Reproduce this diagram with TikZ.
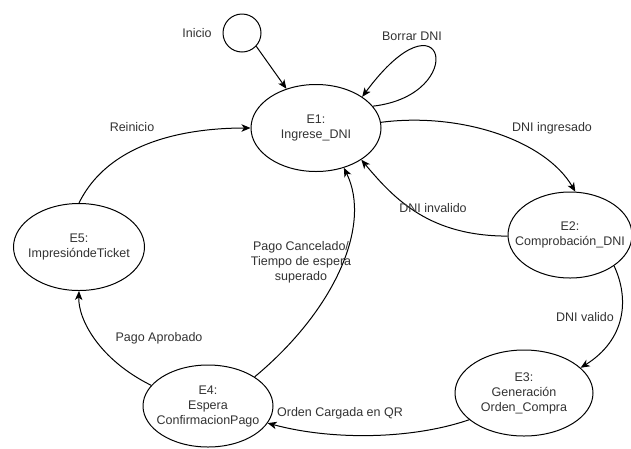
\documentclass[tikz,border=0pt]{standalone}
\usepackage{fontspec}
\setmainfont{Liberation Sans}
\usetikzlibrary{shapes.geometric,arrows.meta}
\definecolor{txtgray}{RGB}{51,51,51}
\begin{document}
\begin{tikzpicture}[x=1pt,y=-1pt,
  state/.style={draw, ellipse, inner sep=0pt, line width=1pt},
  statetext/.style={align=center, text=txtgray, inner sep=0pt,
    font=\fontsize{12.5pt}{15pt}\selectfont},
  edgelabel/.style={align=center, text=txtgray, inner sep=1pt,
    font=\fontsize{12.5pt}{15pt}\selectfont},
  trans/.style={line width=1pt, -{Stealth[length=9pt,width=7.5pt,inset=2.5pt]}}]
  \useasboundingbox[fill=white] (0,0) rectangle (631,448);

  % states
  \node[state, circle, minimum size=38pt] (init) at (242,33) {};
  \node[state, minimum width=130pt, minimum height=87pt] (e1) at (316,128) {};
  \node[state, minimum width=124pt, minimum height=86pt] (e2) at (570,235) {};
  \node[state, minimum width=138pt, minimum height=86pt] (e3) at (524,393) {};
  \node[state, minimum width=130pt, minimum height=82pt] (e4) at (208,406) {};
  \node[state, minimum width=131pt, minimum height=87pt] (e5) at (79,247) {};

  \node[statetext] (e1t) at (e1) {E1:\\Ingrese\_DNI};
  \node[statetext] (e2t) at (e2) {E2:\\Comprobación\_DNI};
  \node[statetext] (e3t) at (e3) {E3:\\Generación\\Orden\_Compra};
  \node[statetext] (e4t) at (e4) {E4:\\Espera\\ConfirmacionPago};
  \node[statetext] (e5t) at (e5) {E5:\\ImpresióndeTicket};

  % transitions
  \draw[trans] (init.-43) -- (e1.127);
  \draw[trans] (e1.21) .. controls (470,95) and (445,-15) .. (e1.34);
  \draw[trans] (e1.5) .. controls (460,112) and (545,140) .. (e2.83);
  \draw[trans] (e2.181) .. controls (430,236) and (395,200) .. (e1.-35);
  \draw[trans] (e2.-35) .. controls (630,300) and (625,340) .. (e3.24);
  \draw[trans] (e3.206) .. controls (410,440) and (330,440) .. (e4.-16);
  \draw[trans] (e4.32) .. controls (335,310) and (372,225) .. (e1.-55);
  \draw[trans] (e4.160) .. controls (100,360) and (78,320) .. (e5.270);
  \draw[trans] (e5.90) .. controls (110,140) and (190,128) .. (e1.180);

  % transition labels
  \node[edgelabel] (linicio) at (197,33) {Inicio};
  \node[edgelabel] (lborrar) at (412,36) {Borrar DNI};
  \node[edgelabel] (lingresado) at (552,128) {DNI ingresado};
  \node[edgelabel] (linvalido) at (433,208) {DNI invalido};
  \node[edgelabel] (lvalido) at (585,317) {DNI valido};
  \node[edgelabel] (lorden) at (340,413) {Orden Cargada en QR};
  \node[edgelabel] (lcancel) at (301,262) {Pago Cancelado/\\Tiempo de espera\\superado};
  \node[edgelabel] (laprobado) at (159,338) {Pago Aprobado};
  \node[edgelabel] (lreinicio) at (132,127) {Reinicio};
\end{tikzpicture}
\end{document}
